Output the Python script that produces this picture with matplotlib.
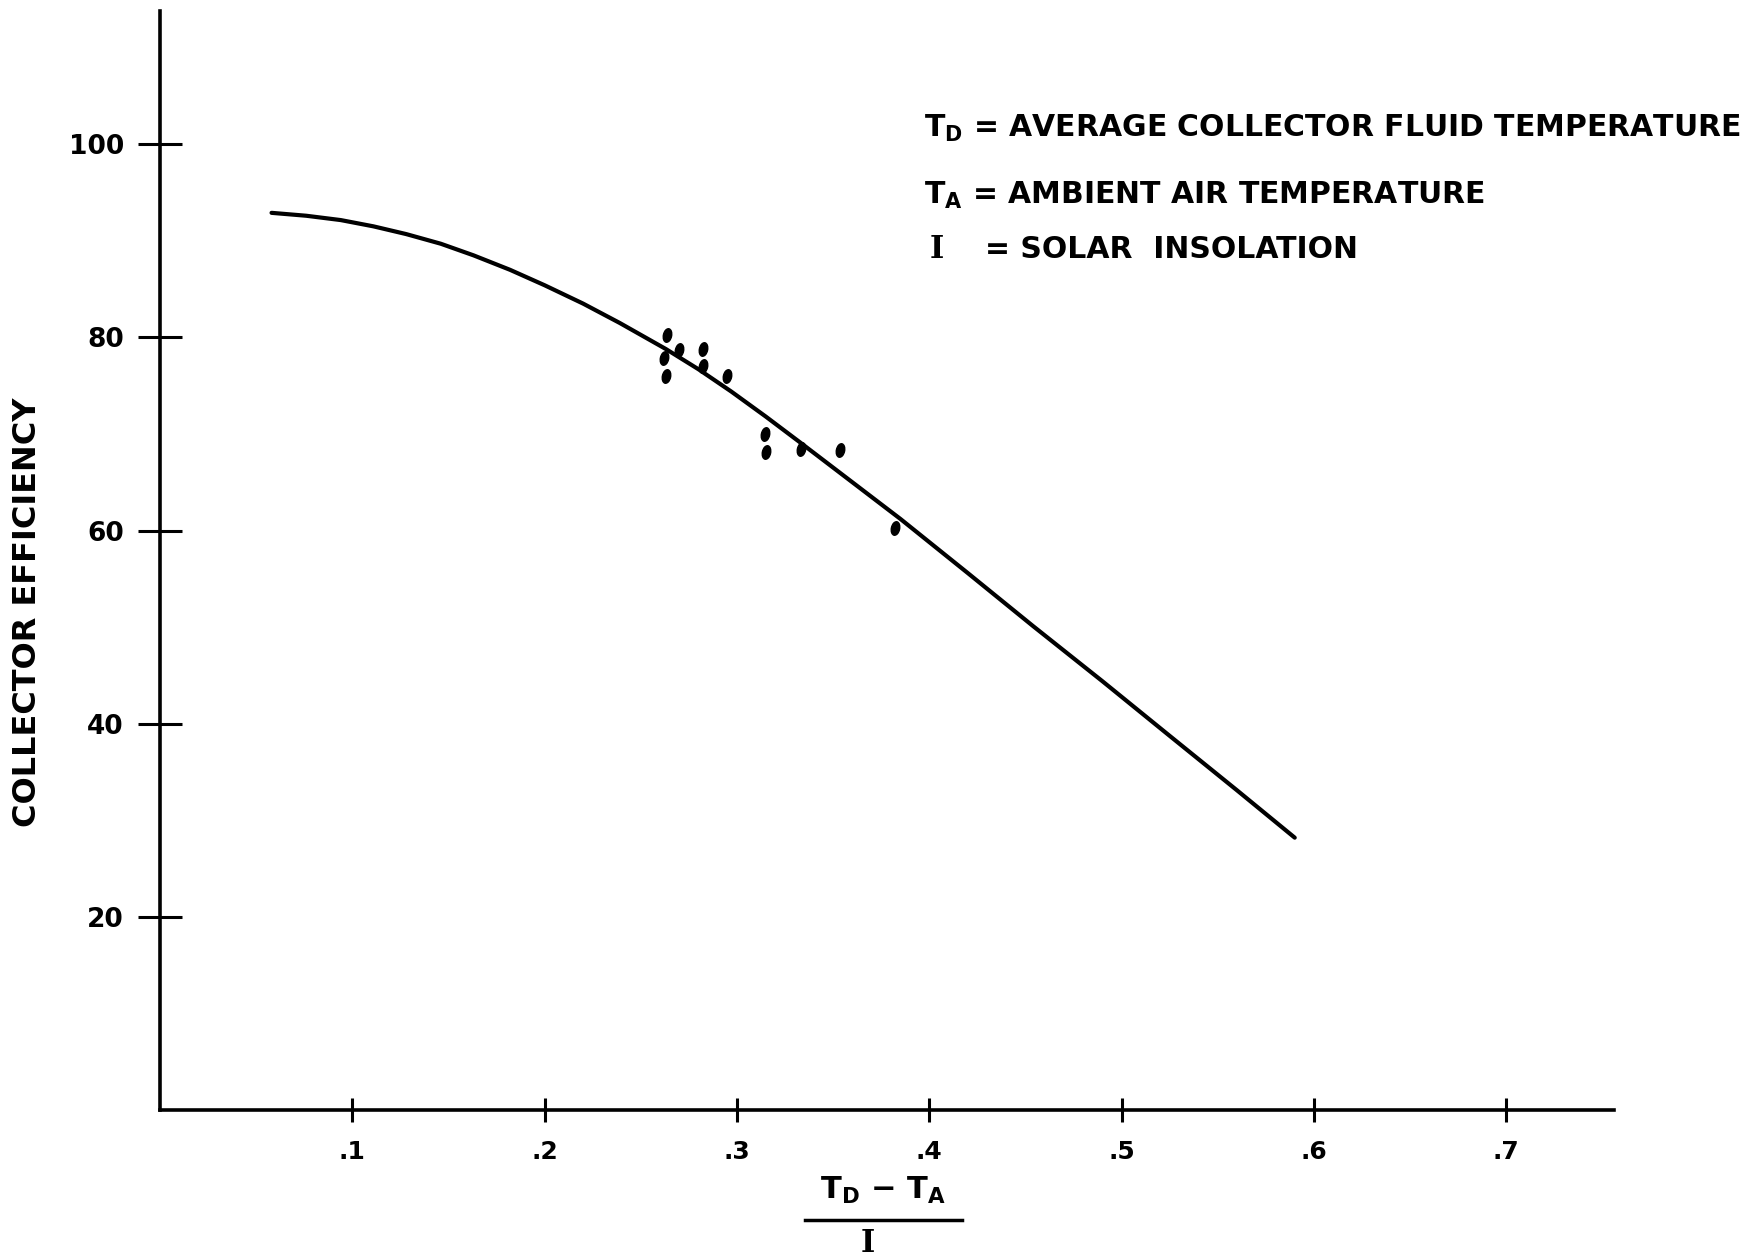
import matplotlib
matplotlib.use('Agg')
import matplotlib.pyplot as plt
from matplotlib.path import Path
from matplotlib.transforms import Affine2D
from matplotlib.lines import Line2D

# efficiency curve
curve_x = [0.058, 0.076, 0.094, 0.111, 0.128, 0.146, 0.163, 0.182, 0.200, 0.220,
           0.239, 0.263, 0.280, 0.297, 0.315, 0.333, 0.360, 0.385, 0.420, 0.454,
           0.490, 0.524, 0.560, 0.590]
curve_y = [92.9, 92.6, 92.15, 91.5, 90.7, 89.7, 88.5, 87.0, 85.4, 83.5,
           81.5, 78.8, 76.7, 74.4, 71.8, 69.1, 65.0, 61.2, 55.6, 50.1,
           44.4, 38.9, 33.1, 28.2]

# measured points
pts_x = [0.2637, 0.2621, 0.2632, 0.2699, 0.2824, 0.2824, 0.2949,
         0.3147, 0.3152, 0.3334, 0.3537, 0.3823]
pts_y = [80.2, 77.9, 76.0, 78.7, 78.8, 77.0, 76.0,
         70.0, 68.1, 68.4, 68.3, 60.3]

xticks = [0.1, 0.2, 0.3, 0.4, 0.5, 0.6, 0.7]
xtick_labels = ['.1', '.2', '.3', '.4', '.5', '.6', '.7']
yticks = [20, 40, 60, 80, 100]
ytick_labels = ['20', '40', '60', '80', '100']

legend_lines = ['T$_\\mathregular{D}$ = AVERAGE COLLECTOR FLUID TEMPERATURE',
                'T$_\\mathregular{A}$ = AMBIENT AIR TEMPERATURE',
                '= SOLAR  INSOLATION']

W, H = 1752, 1259
fig = plt.figure(figsize=(W / 100, H / 100), dpi=100)
fig.patch.set_facecolor('white')
ax = fig.add_axes([160 / W, 1 - 1110 / H, (1614 - 160) / W, (1110 - 11) / H])

ax.plot(curve_x, curve_y, color='black', lw=3.0, solid_capstyle='round',
        solid_joinstyle='round')

# slightly tilted upright ellipse, like the hand-drawn dots
ell = Path.unit_circle().transformed(Affine2D().scale(0.6, 1.0).rotate_deg(-12))
ax.plot(pts_x, pts_y, linestyle='none', marker=ell, markersize=10,
        color='black')

ax.set_xlim(0, 0.756)
ax.set_ylim(0, 113.8)
for s in ['top', 'right']:
    ax.spines[s].set_visible(False)
for s in ['left', 'bottom']:
    ax.spines[s].set_linewidth(2.6)

ax.set_xticks(xticks)
ax.set_xticklabels(xtick_labels)
ax.set_yticks(yticks)
ax.set_yticklabels(ytick_labels)
ax.tick_params(axis='x', direction='inout', length=17, width=2.2, pad=13,
               labelsize=18)
ax.tick_params(axis='y', direction='inout', length=32, width=2.2, pad=10,
               labelsize=19)
for lab in ax.get_xticklabels() + ax.get_yticklabels():
    lab.set_fontweight('bold')

fig.text(28 / W, 1 - 612 / H, 'COLLECTOR EFFICIENCY', rotation=90,
         ha='center', va='center', fontsize=23, fontweight='bold')

# x label as a stacked fraction
fig.text(883 / W, 1 - 1190 / H, 'T$_\\mathregular{D}$ \u2212 T$_\\mathregular{A}$',
         ha='center', va='center', fontsize=22, fontweight='bold')
fig.add_artist(Line2D([805 / W, 962 / W], [1 - 1220 / H, 1 - 1220 / H],
                      color='black', lw=2.5, transform=fig.transFigure))
fig.text(868 / W, 1 - 1243 / H, 'I', ha='center', va='center', fontsize=22,
         fontweight='bold', family='DejaVu Serif')

# definitions block
fig.text(924 / W, 1 - 128 / H, legend_lines[0], ha='left', va='center',
         fontsize=21.5, fontweight='bold')
fig.text(924 / W, 1 - 195 / H, legend_lines[1], ha='left', va='center',
         fontsize=21.5, fontweight='bold')
fig.text(930 / W, 1 - 250 / H, 'I', ha='left', va='center', fontsize=22,
         fontweight='bold', family='DejaVu Serif')
fig.text(985 / W, 1 - 250 / H, legend_lines[2], ha='left', va='center',
         fontsize=21.5, fontweight='bold')

fig.savefig('out.png', dpi=100, facecolor='white')
